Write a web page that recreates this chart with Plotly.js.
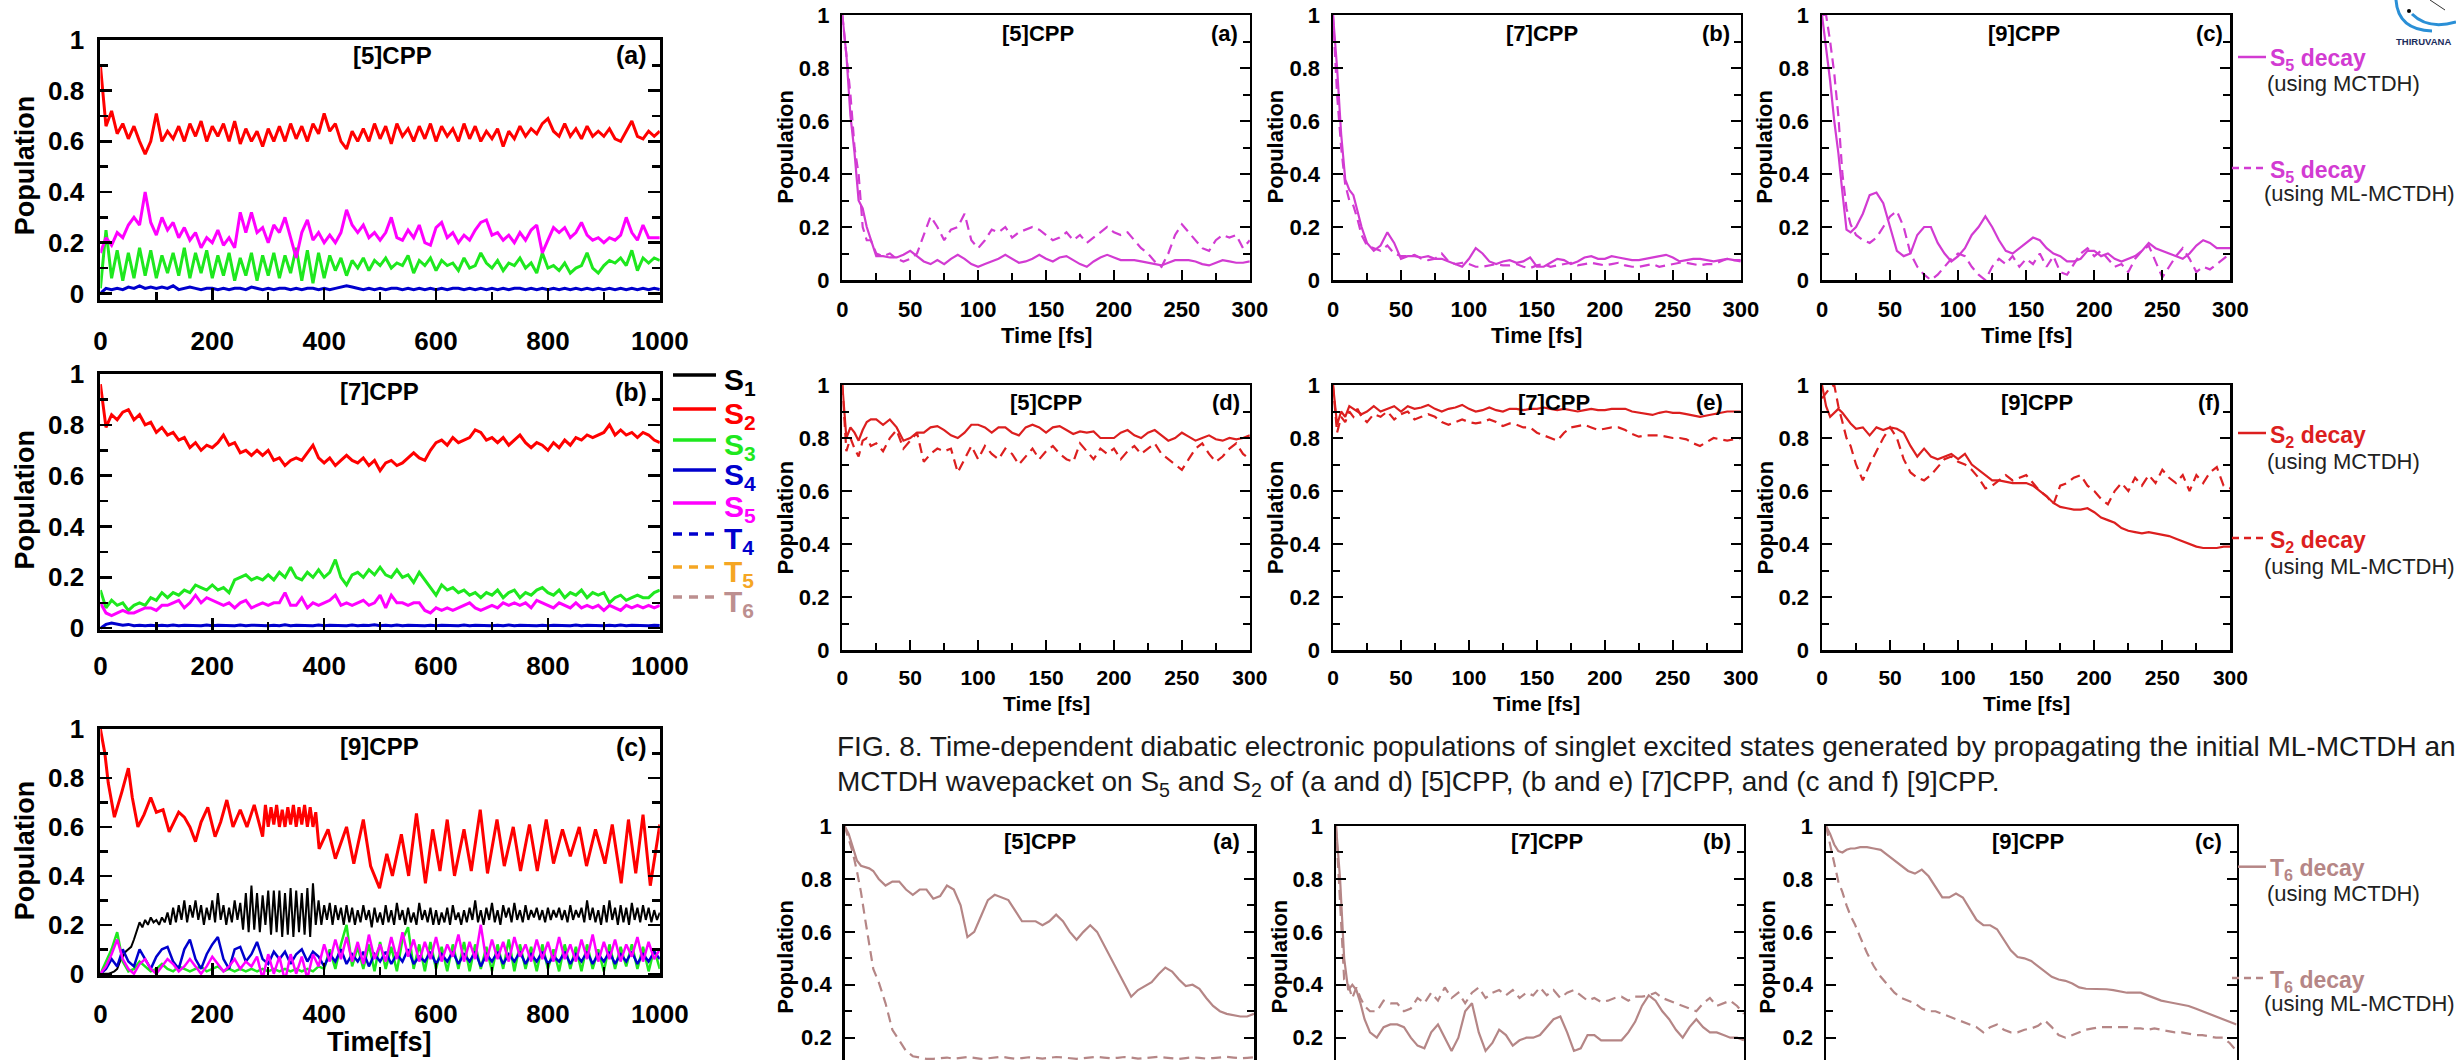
<!DOCTYPE html>
<html><head><meta charset="utf-8">
<script src="https://cdn.plot.ly/plotly-3.0.1.min.js"></script>
<style>html,body{margin:0;padding:0;background:#fff;overflow:hidden}#chart{width:2456px;height:1060px}</style>
</head><body><div id="chart"></div>
<script>
// ---------------- DATA ----------------
// Left column (0-1000 fs), sampled every 10 fs
const T_LONG = Array.from({length:101}, (_, i) => i*10);
const T_LONG5 = Array.from({length:201}, (_, i) => i*5);

const LA_S2 = [0.9,0.66,0.72,0.63,0.67,0.61,0.66,0.6,0.55,0.6,
0.71,0.6,0.64,0.61,0.66,0.6,0.67,0.62,0.68,0.6,
0.66,0.62,0.67,0.6,0.68,0.59,0.65,0.6,0.64,0.58,
0.65,0.6,0.66,0.6,0.67,0.61,0.66,0.6,0.67,0.63,
0.71,0.64,0.67,0.6,0.57,0.64,0.6,0.65,0.6,0.67,
0.61,0.66,0.59,0.67,0.62,0.65,0.6,0.66,0.61,0.67,
0.6,0.66,0.62,0.65,0.6,0.67,0.61,0.66,0.6,0.64,
0.61,0.65,0.58,0.64,0.61,0.66,0.62,0.65,0.63,0.67,
0.69,0.64,0.62,0.67,0.62,0.65,0.61,0.66,0.62,0.64,
0.62,0.65,0.61,0.6,0.64,0.68,0.62,0.61,0.64,0.62,0.64];
const LA_S5 = [0.16,0.22,0.19,0.24,0.22,0.27,0.3,0.27,0.4,0.28,
0.23,0.3,0.25,0.28,0.22,0.26,0.21,0.24,0.18,0.22,
0.2,0.25,0.19,0.22,0.18,0.32,0.24,0.32,0.24,0.26,
0.2,0.27,0.24,0.3,0.22,0.14,0.24,0.29,0.21,0.24,
0.2,0.23,0.2,0.24,0.33,0.27,0.24,0.27,0.22,0.24,
0.21,0.24,0.3,0.22,0.21,0.25,0.22,0.27,0.2,0.19,
0.26,0.28,0.22,0.24,0.2,0.23,0.21,0.25,0.28,0.29,
0.23,0.24,0.21,0.23,0.2,0.24,0.21,0.25,0.27,0.16,
0.21,0.26,0.24,0.26,0.22,0.24,0.28,0.23,0.21,0.22,
0.2,0.22,0.21,0.23,0.3,0.24,0.21,0.27,0.22,0.22,0.22];
const LA_S3 = [0.02,0.25,0.06,0.17,0.05,0.16,0.06,0.18,0.07,0.17,
0.06,0.15,0.08,0.16,0.07,0.18,0.06,0.16,0.08,0.17,
0.06,0.15,0.07,0.16,0.05,0.14,0.07,0.16,0.05,0.15,
0.07,0.16,0.06,0.15,0.08,0.18,0.05,0.17,0.04,0.16,
0.06,0.15,0.09,0.14,0.07,0.13,0.1,0.14,0.09,0.13,
0.11,0.14,0.1,0.12,0.11,0.15,0.08,0.13,0.11,0.14,
0.09,0.13,0.11,0.12,0.09,0.14,0.1,0.11,0.16,0.12,
0.1,0.13,0.09,0.12,0.11,0.14,0.1,0.12,0.08,0.16,
0.1,0.11,0.09,0.12,0.08,0.1,0.11,0.16,0.1,0.08,
0.11,0.13,0.12,0.14,0.11,0.17,0.09,0.14,0.12,0.14,0.13];
const LA_S4 = [0.0,0.02,0.015,0.02,0.015,0.025,0.02,0.03,0.02,0.025,
0.02,0.025,0.02,0.03,0.015,0.02,0.025,0.02,0.015,0.02,
0.02,0.015,0.02,0.015,0.02,0.02,0.015,0.025,0.02,0.015,
0.02,0.015,0.02,0.02,0.015,0.02,0.015,0.02,0.02,0.015,
0.02,0.015,0.02,0.025,0.03,0.025,0.02,0.015,0.02,0.015,
0.02,0.015,0.02,0.02,0.015,0.02,0.015,0.02,0.015,0.02,
0.015,0.02,0.015,0.02,0.02,0.015,0.02,0.015,0.02,0.015,
0.02,0.015,0.02,0.015,0.02,0.02,0.015,0.02,0.015,0.02,
0.015,0.02,0.015,0.02,0.015,0.02,0.015,0.02,0.015,0.02,
0.015,0.02,0.015,0.02,0.015,0.02,0.015,0.02,0.015,0.02,0.015];

const LB_S2 = [0.96,0.79,0.84,0.82,0.85,0.86,0.82,0.84,0.8,0.81,
0.77,0.79,0.76,0.77,0.74,0.75,0.71,0.73,0.7,0.72,
0.71,0.73,0.76,0.72,0.73,0.69,0.7,0.68,0.7,0.68,
0.7,0.66,0.67,0.64,0.66,0.67,0.66,0.69,0.72,0.67,
0.65,0.67,0.64,0.66,0.68,0.66,0.65,0.67,0.64,0.66,
0.62,0.65,0.66,0.64,0.65,0.67,0.69,0.67,0.66,0.7,
0.73,0.74,0.72,0.75,0.73,0.74,0.75,0.78,0.77,0.74,
0.75,0.73,0.75,0.72,0.74,0.76,0.73,0.71,0.73,0.72,
0.7,0.73,0.71,0.74,0.72,0.75,0.74,0.76,0.75,0.76,
0.77,0.8,0.76,0.78,0.76,0.77,0.75,0.77,0.76,0.74,0.73];
const LB_S3 = [0.15,0.08,0.11,0.09,0.1,0.07,0.09,0.1,0.09,0.12,
0.11,0.14,0.12,0.14,0.13,0.15,0.14,0.17,0.16,0.15,
0.17,0.15,0.16,0.14,0.19,0.2,0.21,0.19,0.2,0.19,
0.21,0.19,0.22,0.2,0.24,0.2,0.19,0.22,0.2,0.23,
0.2,0.22,0.27,0.2,0.17,0.21,0.22,0.2,0.23,0.21,
0.24,0.21,0.2,0.23,0.2,0.21,0.18,0.22,0.19,0.16,
0.13,0.17,0.15,0.16,0.14,0.15,0.13,0.14,0.12,0.14,
0.13,0.15,0.12,0.14,0.15,0.12,0.14,0.13,0.15,0.16,
0.14,0.13,0.15,0.12,0.14,0.13,0.15,0.12,0.14,0.13,
0.14,0.1,0.12,0.13,0.11,0.12,0.13,0.12,0.12,0.14,0.15];
const LB_S5 = [0.1,0.06,0.05,0.06,0.07,0.06,0.06,0.07,0.08,0.08,
0.07,0.09,0.09,0.1,0.11,0.08,0.1,0.13,0.1,0.12,
0.11,0.1,0.09,0.1,0.08,0.1,0.11,0.08,0.09,0.1,
0.09,0.1,0.1,0.14,0.09,0.09,0.12,0.08,0.1,0.09,
0.1,0.11,0.13,0.09,0.1,0.09,0.1,0.11,0.09,0.1,
0.13,0.08,0.13,0.1,0.1,0.09,0.1,0.1,0.07,0.06,
0.08,0.07,0.08,0.07,0.08,0.09,0.1,0.08,0.07,0.08,
0.09,0.08,0.1,0.09,0.1,0.09,0.1,0.08,0.11,0.1,
0.09,0.08,0.1,0.09,0.08,0.1,0.08,0.09,0.08,0.09,
0.07,0.09,0.08,0.07,0.09,0.08,0.09,0.08,0.09,0.08,0.09];
const LB_S4 = [0.0,0.015,0.02,0.015,0.012,0.015,0.01,0.012,0.01,0.012,
0.01,0.012,0.01,0.013,0.01,0.012,0.011,0.012,0.01,0.013,
0.01,0.012,0.011,0.012,0.01,0.013,0.01,0.012,0.011,0.012,
0.01,0.012,0.01,0.014,0.01,0.012,0.011,0.012,0.01,0.013,
0.01,0.012,0.011,0.012,0.01,0.013,0.01,0.012,0.011,0.014,
0.01,0.012,0.01,0.013,0.01,0.012,0.011,0.012,0.01,0.012,
0.01,0.012,0.011,0.012,0.01,0.013,0.01,0.012,0.011,0.012,
0.01,0.012,0.01,0.013,0.01,0.012,0.011,0.012,0.01,0.012,
0.01,0.012,0.011,0.012,0.01,0.013,0.01,0.012,0.011,0.012,
0.01,0.012,0.01,0.013,0.01,0.012,0.011,0.012,0.01,0.012,0.011];

// [9]CPP left panel: S2 turning points (own time axis)
const LC_S2_T = [0,8,14,25,38,50,57,67,78,90,100,112,123,140,150,160,170,180,192,205,
215,226,237,250,262,275,290,295,300,305,310,315,320,325,330,335,340,345,350,355,
360,365,370,375,380,385,391,407,420,440,453,470,483,499,512,522,538,551,565,581,
594,607,620,633,650,663,679,692,709,722,738,751,767,781,797,810,826,840,856,869,
885,902,915,931,944,957,970,983,1000];
const LC_S2 = [1.0,0.9,0.78,0.64,0.74,0.84,0.72,0.6,0.65,0.72,0.66,0.67,0.58,0.66,0.64,0.6,0.54,0.62,0.68,0.56,
0.62,0.71,0.6,0.67,0.6,0.69,0.56,0.69,0.6,0.68,0.61,0.69,0.6,0.67,0.6,0.68,0.61,0.69,0.6,0.68,
0.61,0.69,0.6,0.68,0.6,0.66,0.51,0.59,0.47,0.6,0.45,0.63,0.44,0.35,0.49,0.4,0.57,0.4,0.655,0.37,
0.59,0.42,0.63,0.4,0.59,0.42,0.67,0.41,0.63,0.44,0.6,0.42,0.61,0.42,0.63,0.45,0.59,0.48,0.6,0.44,
0.59,0.45,0.61,0.37,0.63,0.41,0.65,0.36,0.61];
// S1 sampled every 5 fs
const LC_S1 = [0,0,0,0,0.005,0.01,0.02,0.05,0.07,0.09,
0.1,0.11,0.14,0.18,0.21,0.19,0.22,0.2,0.23,0.21,
0.22,0.2,0.23,0.21,0.25,0.2,0.27,0.21,0.28,0.22,
0.3,0.21,0.28,0.23,0.3,0.22,0.28,0.2,0.27,0.22,
0.3,0.21,0.33,0.22,0.28,0.2,0.27,0.21,0.3,0.22,
0.29,0.18,0.33,0.17,0.36,0.18,0.33,0.17,0.32,0.2,
0.34,0.16,0.34,0.17,0.34,0.15,0.33,0.16,0.35,0.15,
0.34,0.17,0.33,0.16,0.35,0.15,0.37,0.2,0.3,0.2,
0.28,0.22,0.29,0.2,0.28,0.22,0.27,0.2,0.28,0.21,
0.27,0.2,0.26,0.21,0.28,0.22,0.26,0.19,0.27,0.21,
0.25,0.2,0.28,0.21,0.26,0.2,0.29,0.22,0.26,0.2,
0.27,0.21,0.25,0.2,0.29,0.22,0.26,0.21,0.27,0.2,
0.26,0.2,0.25,0.21,0.27,0.2,0.28,0.22,0.25,0.2,
0.26,0.21,0.27,0.22,0.3,0.21,0.26,0.2,0.27,0.22,
0.29,0.21,0.26,0.2,0.28,0.23,0.27,0.21,0.29,0.22,
0.26,0.21,0.28,0.22,0.26,0.23,0.27,0.22,0.26,0.21,
0.27,0.22,0.26,0.23,0.27,0.22,0.26,0.21,0.28,0.22,
0.26,0.23,0.27,0.21,0.3,0.22,0.27,0.21,0.26,0.2,
0.28,0.21,0.3,0.22,0.27,0.2,0.28,0.21,0.27,0.2,
0.29,0.22,0.27,0.21,0.28,0.22,0.27,0.21,0.26,0.22,0.25];
const LC_S3 = [0,0.05,0.1,0.17,0.05,0.01,0.02,0.05,0.03,0.01,
0.02,0.04,0.02,0.01,0.03,0.02,0.01,0.02,0.03,0.01,
0.02,0.03,0.01,0.02,0.01,0.02,0.01,0.02,0.01,0.02,
0.01,0.02,0.01,0.02,0.01,0.02,0.01,0.02,0.01,0.03,
0.02,0.1,0.02,0.12,0.2,0.03,0.11,0.02,0.12,0.01,
0.13,0.02,0.11,0.01,0.14,0.19,0.02,0.12,0.01,0.13,
0.02,0.11,0.01,0.12,0.02,0.13,0.01,0.12,0.02,0.11,
0.01,0.12,0.02,0.14,0.01,0.12,0.02,0.11,0.01,0.12,
0.02,0.1,0.01,0.12,0.02,0.11,0.01,0.12,0.02,0.1,
0.01,0.12,0.02,0.11,0.03,0.12,0.02,0.11,0.01,0.1,0.02];
const LC_S4 = [0,0.02,0.06,0.03,0.1,0.05,0.03,0.1,0.06,0.02,
0.07,0.1,0.11,0.05,0.02,0.1,0.14,0.06,0.02,0.08,
0.12,0.15,0.06,0.02,0.1,0.11,0.05,0.08,0.13,0.06,
0.04,0.09,0.06,0.09,0.04,0.08,0.1,0.05,0.09,0.07,
0.03,0.08,0.05,0.1,0.04,0.08,0.05,0.09,0.03,0.08,
0.05,0.09,0.04,0.08,0.05,0.1,0.04,0.07,0.05,0.09,
0.04,0.08,0.05,0.09,0.04,0.08,0.05,0.09,0.03,0.08,
0.05,0.09,0.04,0.08,0.05,0.09,0.04,0.08,0.05,0.09,
0.04,0.07,0.05,0.09,0.04,0.08,0.05,0.09,0.04,0.08,
0.05,0.09,0.04,0.08,0.05,0.09,0.04,0.08,0.05,0.09,0.06];
const LC_S5 = [0,0.03,0.08,0.14,0.06,0.02,0.0,0.04,0.06,0.02,
0.0,0.03,0.06,0.04,0.01,0.03,0.06,0.03,0.0,0.03,
0.07,0.04,0.01,0.03,0.06,0.02,0.05,0.03,0.07,-0.02,
0.08,0.0,0.07,-0.03,0.08,0.0,0.07,-0.02,0.08,0.03,
0.12,0.05,0.14,0.06,0.15,0.05,0.13,0.04,0.16,0.06,
0.12,0.05,0.15,0.06,0.17,0.07,0.14,0.05,0.13,0.06,
0.15,0.05,0.12,0.07,0.16,0.05,0.13,0.06,0.2,0.05,
0.14,0.06,0.13,0.05,0.15,0.07,0.12,0.05,0.14,0.06,
0.13,0.05,0.15,0.06,0.12,0.05,0.14,0.06,0.16,0.05,
0.13,0.06,0.14,0.05,0.12,0.07,0.15,0.05,0.13,0.06,0.1];

// Right block (0-300 fs)
const T_SHORT = [0,3,6,9,12,15,18,21,25,30,35,40,45,50,55,60,65,70,75,80,85,90,95,100,
105,110,115,120,125,130,135,140,145,150,155,160,165,170,175,180,185,190,195,200,
205,210,215,220,225,230,235,240,245,250,255,260,265,270,275,280,285,290,295,300];

const S5_5_MCTDH = [1.0,0.85,0.62,0.48,0.30,0.27,0.20,0.15, 0.09,0.09,0.085,0.085,0.095,0.11,0.09,0.07,
0.06,0.075,0.06,0.08,0.095,0.08,0.06,0.05, 0.06,0.07,0.08,0.095,0.08,0.065,0.07,0.08,
0.095,0.08,0.07,0.085,0.09,0.075,0.06,0.05, 0.07,0.085,0.095,0.085,0.075,0.075,0.075,0.07,
0.065,0.06,0.055,0.065,0.075,0.075,0.075,0.07, 0.06,0.055,0.065,0.075,0.07,0.065,0.065,0.07];
const S5_5_ML = [1.0,0.85,0.7,0.5,0.4,0.2,0.15,0.15, 0.1,0.09,0.1,0.08,0.07,0.08,0.1,0.17,
0.24,0.2,0.15,0.19,0.2,0.25,0.15,0.12, 0.15,0.19,0.18,0.2,0.16,0.18,0.19,0.2,
0.19,0.17,0.15,0.16,0.18,0.15,0.17,0.14, 0.16,0.18,0.2,0.18,0.17,0.18,0.15,0.12,
0.1,0.07,0.05,0.1,0.17,0.21,0.18,0.15, 0.12,0.11,0.15,0.17,0.16,0.17,0.12,0.15];
const S5_7_MCTDH = [1.0,0.8,0.55,0.38,0.34,0.32,0.26,0.2, 0.14,0.11,0.13,0.18,0.14,0.08,0.09,0.09,
0.085,0.09,0.08,0.08,0.07,0.06,0.05,0.08, 0.12,0.1,0.07,0.06,0.07,0.075,0.065,0.07,
0.085,0.05,0.05,0.065,0.08,0.075,0.06,0.07, 0.085,0.09,0.08,0.08,0.09,0.085,0.08,0.075,
0.075,0.08,0.085,0.09,0.095,0.085,0.07,0.075, 0.08,0.08,0.075,0.07,0.075,0.08,0.075,0.075];
const S5_7_ML = [1.0,0.7,0.5,0.36,0.3,0.28,0.23,0.17, 0.13,0.12,0.11,0.13,0.1,0.09,0.09,0.095,
0.08,0.075,0.08,0.1,0.07,0.06,0.065,0.06, 0.05,0.05,0.055,0.06,0.055,0.055,0.06,0.05,
0.045,0.055,0.06,0.05,0.055,0.06,0.065,0.055, 0.06,0.065,0.06,0.055,0.06,0.065,0.055,0.05,
0.05,0.055,0.06,0.05,0.055,0.06,0.065,0.065, 0.06,0.055,0.06,0.06,0.07,0.08,0.075,0.07];
const S5_9_MCTDH = [1.0,0.88,0.75,0.6,0.48,0.33,0.19,0.18, 0.2,0.25,0.32,0.33,0.29,0.2,0.11,0.09,
0.1,0.17,0.2,0.2,0.14,0.1,0.07,0.09, 0.12,0.17,0.2,0.24,0.2,0.15,0.11,0.1,
0.12,0.14,0.16,0.15,0.12,0.1,0.09,0.07, 0.07,0.08,0.11,0.11,0.09,0.1,0.08,0.07,
0.08,0.09,0.11,0.14,0.12,0.11,0.1,0.09, 0.08,0.1,0.13,0.15,0.14,0.12,0.12,0.12];
const S5_9_ML = [1.0,1.0,0.9,0.78,0.62,0.4,0.27,0.21, 0.17,0.15,0.14,0.16,0.2,0.24,0.26,0.2,
0.1,0.05,0.02,0.0,0.02,0.05,0.08,0.1, 0.09,0.05,0.02,0.0,0.05,0.08,0.06,0.09,
0.05,0.08,0.06,0.1,0.05,0.09,0.03,0.02, 0.06,0.1,0.12,0.09,0.11,0.08,0.05,0.06,
0.03,0.08,0.11,0.13,0.07,0.01,0.05,0.09, 0.12,0.08,0.03,0.05,0.04,0.06,0.08,0.1];

const S2_5_MCTDH = [1.0,0.8,0.84,0.82,0.79,0.83,0.86,0.87, 0.87,0.85,0.87,0.84,0.79,0.8,0.82,0.82,
0.84,0.845,0.83,0.81,0.8,0.82,0.85,0.85, 0.84,0.82,0.84,0.84,0.82,0.81,0.84,0.85,
0.84,0.82,0.84,0.845,0.83,0.815,0.825,0.82, 0.825,0.8,0.8,0.8,0.82,0.83,0.81,0.8,
0.82,0.83,0.81,0.79,0.8,0.82,0.805,0.79, 0.8,0.81,0.795,0.79,0.8,0.795,0.8,0.81];
const S2_5_ML = [1.0,0.75,0.8,0.76,0.73,0.79,0.8,0.77, 0.78,0.75,0.8,0.83,0.76,0.79,0.82,0.71,
0.74,0.76,0.75,0.76,0.67,0.72,0.77,0.72, 0.77,0.74,0.72,0.76,0.74,0.7,0.73,0.76,
0.72,0.75,0.77,0.74,0.72,0.71,0.78,0.75, 0.72,0.76,0.74,0.76,0.72,0.75,0.77,0.74,
0.76,0.78,0.74,0.72,0.7,0.68,0.72,0.76, 0.78,0.74,0.71,0.73,0.76,0.78,0.74,0.72];
const S2_7_MCTDH = [1.0,0.85,0.9,0.88,0.92,0.91,0.9,0.89, 0.9,0.92,0.9,0.91,0.92,0.9,0.92,0.91,
0.915,0.925,0.91,0.9,0.91,0.915,0.925,0.91, 0.9,0.905,0.915,0.905,0.9,0.91,0.91,0.905,
0.91,0.91,0.915,0.91,0.905,0.91,0.905,0.9, 0.905,0.91,0.905,0.905,0.91,0.91,0.91,0.9,
0.895,0.89,0.887,0.895,0.9,0.895,0.895,0.89, 0.885,0.88,0.885,0.89,0.895,0.9,0.9,0.9];
const S2_7_ML = [1.0,0.82,0.88,0.86,0.9,0.88,0.91,0.88, 0.86,0.89,0.88,0.9,0.87,0.89,0.9,0.87,
0.88,0.89,0.88,0.86,0.85,0.86,0.87,0.86, 0.855,0.86,0.87,0.86,0.845,0.855,0.85,0.84,
0.84,0.82,0.81,0.8,0.79,0.82,0.84,0.845, 0.85,0.84,0.83,0.835,0.84,0.84,0.83,0.815,
0.805,0.81,0.81,0.81,0.805,0.8,0.8,0.795, 0.78,0.77,0.785,0.8,0.795,0.79,0.795,0.8];
const S2_9_MCTDH = [1.0,0.92,0.88,0.895,0.91,0.895,0.875,0.855, 0.835,0.84,0.81,0.84,0.83,0.84,0.835,0.82,
0.77,0.73,0.76,0.73,0.72,0.73,0.74,0.72, 0.74,0.7,0.68,0.66,0.64,0.64,0.635,0.63,
0.63,0.63,0.62,0.6,0.58,0.555,0.54,0.535, 0.53,0.53,0.535,0.52,0.5,0.49,0.48,0.46,
0.45,0.445,0.44,0.445,0.44,0.435,0.43,0.42, 0.41,0.4,0.39,0.385,0.385,0.385,0.39,0.39];
const S2_9_ML = [0.95,0.97,0.99,1.0,0.92,0.86,0.8,0.77, 0.7,0.64,0.7,0.75,0.8,0.84,0.8,0.72,
0.67,0.65,0.64,0.66,0.69,0.72,0.73,0.71, 0.7,0.68,0.65,0.61,0.62,0.64,0.66,0.64,
0.65,0.66,0.63,0.6,0.58,0.55,0.62,0.63, 0.65,0.66,0.62,0.6,0.57,0.55,0.6,0.63,
0.6,0.65,0.62,0.66,0.63,0.68,0.65,0.63, 0.66,0.6,0.66,0.63,0.67,0.69,0.62,0.61];

const T6_5_MCTDH = [1.0,0.97,0.92,0.87,0.85,0.845,0.84,0.83, 0.8,0.775,0.79,0.79,0.76,0.74,0.76,0.76,
0.725,0.735,0.775,0.76,0.7,0.58,0.6,0.66, 0.72,0.74,0.73,0.72,0.68,0.64,0.64,0.64,
0.625,0.64,0.665,0.64,0.6,0.57,0.6,0.625, 0.6,0.55,0.5,0.45,0.4,0.355,0.38,0.395,
0.41,0.44,0.465,0.45,0.42,0.395,0.4,0.385, 0.35,0.32,0.3,0.29,0.285,0.28,0.28,0.29];
const T6_5_ML = [1.0,0.95,0.9,0.83,0.75,0.65,0.56,0.46, 0.41,0.33,0.23,0.19,0.15,0.13,0.125,0.12,
0.12,0.122,0.125,0.12,0.123,0.127,0.124,0.12, 0.122,0.125,0.128,0.124,0.12,0.123,0.126,0.124,
0.121,0.124,0.127,0.125,0.122,0.12,0.123,0.126, 0.128,0.125,0.122,0.124,0.127,0.125,0.121,0.123,
0.126,0.128,0.125,0.122,0.12,0.123,0.126,0.124, 0.121,0.123,0.126,0.128,0.125,0.122,0.124,0.126];
const T6_7_MCTDH = [1.0,0.8,0.5,0.38,0.4,0.38,0.33,0.27, 0.22,0.2,0.24,0.25,0.25,0.24,0.2,0.17,
0.16,0.22,0.25,0.2,0.15,0.2,0.3,0.33, 0.22,0.15,0.18,0.23,0.21,0.17,0.19,0.2,
0.2,0.21,0.24,0.27,0.28,0.22,0.15,0.16, 0.21,0.21,0.19,0.19,0.19,0.19,0.22,0.26,
0.32,0.36,0.34,0.3,0.27,0.23,0.2,0.24, 0.27,0.24,0.22,0.22,0.21,0.2,0.2,0.19];
const T6_7_ML = [1.0,0.7,0.42,0.4,0.35,0.39,0.35,0.32, 0.3,0.3,0.34,0.33,0.33,0.3,0.31,0.35,
0.33,0.37,0.34,0.39,0.35,0.37,0.33,0.37, 0.39,0.35,0.37,0.38,0.36,0.38,0.35,0.37,
0.36,0.39,0.36,0.38,0.35,0.37,0.38,0.36, 0.34,0.35,0.335,0.34,0.35,0.355,0.34,0.355,
0.355,0.36,0.37,0.35,0.34,0.33,0.32,0.31, 0.3,0.33,0.35,0.32,0.33,0.34,0.32,0.29];
const T6_9_MCTDH = [1.0,0.97,0.93,0.905,0.9,0.91,0.915,0.915, 0.92,0.92,0.915,0.91,0.89,0.87,0.85,0.83,
0.82,0.835,0.81,0.77,0.73,0.73,0.745,0.73, 0.69,0.645,0.625,0.625,0.61,0.57,0.53,0.505,
0.5,0.49,0.47,0.45,0.43,0.42,0.415,0.405, 0.39,0.385,0.385,0.385,0.383,0.38,0.375,0.37,
0.37,0.37,0.36,0.35,0.34,0.335,0.33,0.325, 0.32,0.31,0.3,0.29,0.28,0.27,0.26,0.25];
const T6_9_ML = [1.0,0.93,0.87,0.79,0.75,0.7,0.66,0.63, 0.58,0.52,0.47,0.43,0.4,0.37,0.35,0.34,
0.33,0.31,0.3,0.3,0.29,0.28,0.27,0.26, 0.25,0.24,0.22,0.24,0.25,0.23,0.22,0.22,
0.23,0.235,0.245,0.265,0.24,0.21,0.2,0.21, 0.22,0.23,0.235,0.24,0.24,0.24,0.24,0.24,
0.235,0.235,0.23,0.235,0.23,0.225,0.22,0.22, 0.215,0.21,0.21,0.205,0.2,0.2,0.18,0.15];

const MOLECULES = ['[5]CPP','[7]CPP','[9]CPP'];
const LEFT_TAGS = ['(a)','(b)','(c)'];
const ROW_TAGS = [['(a)','(b)','(c)'],['(d)','(e)','(f)'],['(a)','(b)','(c)']];
const STATE_NAMES = ['S<sub>1</sub>','S<sub>2</sub>','S<sub>3</sub>','S<sub>4</sub>','S<sub>5</sub>','T<sub>4</sub>','T<sub>5</sub>','T<sub>6</sub>'];
const ROW_STATES = ['S<sub>5</sub>','S<sub>2</sub>','T<sub>6</sub>'];
const METHODS = ['(using MCTDH)','(using ML-MCTDH)'];
const CAPTION1 = 'FIG. 8. Time-dependent diabatic electronic populations of singlet excited states generated by propagating the initial ML-MCTDH and';
const CAPTION2 = 'MCTDH wavepacket on S<sub>5</sub> and S<sub>2</sub> of (a and d) [5]CPP, (b and e) [7]CPP, and (c and f) [9]CPP.';

// ---------------- LAYOUT ----------------
const W=2456, H=1060;
const FONT='Liberation Sans, Arial, Helvetica, sans-serif';
const fx = x => x/W, fy = y => 1 - y/H;
const C = {S1:'#000000', S2:'#ff0000', S3:'#1ee81e', S4:'#0000cd', S5:'#ff00ff', T4:'#0000cd', T5:'#f5a623', T6:'#bc8f8f',
           mS5:'#d23bd2', mS2:'#dc1f1f', mT6:'#b58686'};

const traces=[];
const layout={width:W,height:H,margin:{l:0,r:0,t:0,b:0},paper_bgcolor:'#fff',plot_bgcolor:'#fff',
  showlegend:false,annotations:[],shapes:[],font:{family:FONT,color:'#000'}};

function addAxes(n,x0,x1,y0,y1,xr,yr,o){
  const xs=n===1?'xaxis':'xaxis'+n, ys=n===1?'yaxis':'yaxis'+n;
  const xid=n===1?'x':'x'+n, yid=n===1?'y':'y'+n;
  const tf={family:FONT,size:o.fs,color:'#000',weight:'bold'};
  const xtf={family:FONT,size:o.xfs||o.fs,color:'#000',weight:'bold'};
  layout[xs]={domain:[fx(x0),fx(x1)],anchor:yid,range:xr,showgrid:false,zeroline:false,showline:true,
    linecolor:'#000',linewidth:o.lw,mirror:!o.cut,ticks:o.cut?'':'inside',ticklen:o.tl,tickwidth:o.tw,tickcolor:'#000',
    tick0:0,dtick:o.xdt,showticklabels:!o.cut,tickfont:xtf,ticklabelstandoff:o.xso,side:o.cut?'top':'bottom',fixedrange:true};
  if(!o.cut) layout[xs].minor={ticks:'inside',dtick:o.xmdt,ticklen:o.mtl,tickwidth:o.tw,tickcolor:'#000'};
  layout[ys]={domain:[fy(y1),fy(y0)],anchor:xid,range:yr,showgrid:false,zeroline:false,showline:true,
    linecolor:'#000',linewidth:o.lw,mirror:'ticks',ticks:'inside',ticklen:o.tl,tickwidth:o.tw,tickcolor:'#000',
    tick0:0,dtick:0.2,minor:{ticks:'inside',dtick:0.1,ticklen:o.mtl,tickwidth:o.tw,tickcolor:'#000'},
    tickfont:tf,ticklabelstandoff:o.yso,fixedrange:true};
  return [xid,yid];
}
function line(ax,x,y,color,width,dash){
  traces.push({type:'scatter',mode:'lines',x:x,y:y,xaxis:ax[0],yaxis:ax[1],hoverinfo:'skip',
    line:{color:color,width:width,dash:dash||'solid'}});
}
function ann(text,x,y,o){
  o=o||{};
  layout.annotations.push({text:text,xref:'paper',yref:'paper',x:fx(x),y:fy(y),showarrow:false,
    xanchor:o.xa||'center',yanchor:o.ya||'middle',textangle:o.angle||0,
    font:{family:FONT,size:o.size||22,color:o.color||'#000',weight:o.bold?'bold':'normal'}});
}
function seg(x0,y,x1,color,width,dash){
  layout.shapes.push({type:'line',xref:'paper',yref:'paper',x0:fx(x0),x1:fx(x1),y0:fy(y),y1:fy(y),
    line:{color:color,width:width,dash:dash||'solid'}});
}

// Left column panels
const LO={lw:3,tl:12,mtl:8,tw:2.5,fs:26,xdt:200,xmdt:100,yso:8};
const la=addAxes(1,100.4,659.8,40,300,[0,1000],[-0.026,1],Object.assign({},LO,{xso:16}));
line(la,T_LONG,LA_S3,C.S3,3); line(la,T_LONG,LA_S5,C.S5,3); line(la,T_LONG,LA_S2,C.S2,3); line(la,T_LONG,LA_S4,C.S4,3);
const lb=addAxes(2,100.4,659.8,374,630,[0,1000],[-0.007,1],Object.assign({},LO,{xso:11}));
line(lb,T_LONG,LB_S2,C.S2,3); line(lb,T_LONG,LB_S3,C.S3,3); line(lb,T_LONG,LB_S4,C.S4,3); line(lb,T_LONG,LB_S5,C.S5,3);
const lc=addAxes(3,100.4,659.8,729,975,[0,1000],[-0.005,1],Object.assign({},LO,{xso:14}));
line(lc,T_LONG5,LC_S1,C.S1,2); line(lc,LC_S2_T,LC_S2,C.S2,3); line(lc,T_LONG,LC_S3,C.S3,2.5);
line(lc,T_LONG,LC_S4,C.S4,2.5); line(lc,T_LONG,LC_S5,C.S5,2.5);

const popLeftY=[165.7,500,850.7];
const leftLabY=[55,391.7,746.7];
const leftMolX=[392.8,379,379];
for(let i=0;i<3;i++){
  ann('Population',24.6,popLeftY[i],{angle:-90,size:27,bold:true});
  ann(MOLECULES[i],leftMolX[i],leftLabY[i],{size:24,bold:true});
  ann(LEFT_TAGS[i],631,leftLabY[i],{size:25,bold:true});
}
ann('Time[fs]',379,1041.7,{size:27,bold:true});

// Left legend
const legY=[375,409,440,470,503,534,567,597];
const legC=[C.S1,C.S2,C.S3,C.S4,C.S5,C.T4,C.T5,C.T6];
for(let i=0;i<8;i++){
  seg(673,legY[i],716,legC[i],3.5,i>=5?'9px,7px':'solid');
  ann(STATE_NAMES[i],722,legY[i]+6,{xa:'left',size:30,bold:true,color:legC[i]});
}

// Right 3x3 block
const MO={lw:2.5,tl:10,mtl:7,tw:2,fs:22,xdt:50,xmdt:25,yso:6};
const colX=[[842.3,1249.8],[1333,1740.8],[1822,2230.4]];
const colX3=[[844.6,1254],[1336,1743.9],[1826,2236.5]];
const rowY=[[15,280],[385,650],[826,1060]];
const rowXso=[8,7,0];
const DATA=[[[S5_5_MCTDH,S5_5_ML],[S5_7_MCTDH,S5_7_ML],[S5_9_MCTDH,S5_9_ML]],
            [[S2_5_MCTDH,S2_5_ML],[S2_7_MCTDH,S2_7_ML],[S2_9_MCTDH,S2_9_ML]],
            [[T6_5_MCTDH,T6_5_ML],[T6_7_MCTDH,T6_7_ML],[T6_9_MCTDH,T6_9_ML]]];
const rowColor=[C.mS5,C.mS2,C.mT6];
const molX=[[1037.5,1541.5,2024],[1046,1554,2036.6],[1039.5,1547,2027.5]];
const tagX=[[1224,1716,2209],[1226,1709,2209],[1226.6,1716.5,2208.5]];
const labY=[33,402,841];
const popX=[[786,1275.7,1765],[785,1275.7,1765],[786,1279.7,1768]];
const popY=[146.7,517.5,956.7];
let n=4;
for(let r=0;r<3;r++){
  for(let c=0;c<3;c++){
    const xs=(r===2?colX3:colX)[c];
    const yr=r===2?[0.1157,1]:[0,1];
    const ax=addAxes(n,xs[0],xs[1],rowY[r][0],rowY[r][1],[0,300],yr,
      Object.assign({},MO,{cut:r===2,xso:rowXso[r],xfs:r===1?21:22}));
    line(ax,T_SHORT,DATA[r][c][0],rowColor[r],2.2);
    line(ax,T_SHORT,DATA[r][c][1],rowColor[r],2.2,'10px,6px');
    ann(MOLECULES[c],molX[r][c],labY[r],{size:22,bold:true});
    ann(ROW_TAGS[r][c],tagX[r][c],labY[r],{size:22,bold:true});
    ann('Population',popX[r][c],popY[r],{angle:-90,size:22,bold:true});
    if(r===0) ann('Time [fs]',(xs[0]+xs[1])/2,335,{size:22,bold:true});
    if(r===1) ann('Time [fs]',(xs[0]+xs[1])/2,703,{size:21,bold:true});
    n++;
  }
}
// Right legends
const rl=[{s:57,u:83,d:168,v:193},{s:433,u:461.7,d:538,v:566.7},{s:866.7,u:893,d:978,v:1003}];
for(let r=0;r<3;r++){
  seg(2238,rl[r].s,2266,rowColor[r],2.5);
  ann(ROW_STATES[r]+' decay',2268,rl[r].s+3,{xa:'left',size:23,bold:true,color:rowColor[r]});
  ann(METHODS[0],2265,rl[r].u,{xa:'left',size:22,color:'#222'});
  seg(2232,rl[r].d,2266,rowColor[r],2.5,'7px,5px');
  ann(ROW_STATES[r]+' decay',2268,rl[r].d+3,{xa:'left',size:23,bold:true,color:rowColor[r]});
  ann(METHODS[1],2262,rl[r].v,{xa:'left',size:22,color:'#222'});
}

// Caption
ann(CAPTION1,835,746.7,{xa:'left',size:28,color:'#1a1a1a'});
ann(CAPTION2,835,783,{xa:'left',size:28,color:'#1a1a1a'});

// Partial logo (top-right corner)
layout.shapes.push({type:'path',xref:'paper',yref:'paper',
  path:`M ${fx(2396)} ${fy(0)} Q ${fx(2398)} ${fy(30)} ${fx(2432)} ${fy(31)}`,line:{color:'#2a8fd6',width:3}});
layout.shapes.push({type:'path',xref:'paper',yref:'paper',
  path:`M ${fx(2412)} ${fy(14)} Q ${fx(2428)} ${fy(30)} ${fx(2456)} ${fy(22)}`,line:{color:'#2a8fd6',width:3}});
layout.shapes.push({type:'line',xref:'paper',yref:'paper',x0:fx(2430),y0:fy(0),x1:fx(2445),y1:fy(10),line:{color:'#333',width:1}});
layout.shapes.push({type:'circle',xref:'paper',yref:'paper',x0:fx(2407),x1:fx(2411),y0:fy(9),y1:fy(13),fillcolor:'#000',line:{width:0}});
ann('THIRUVANA',2394,42,{xa:'left',size:9.5,bold:true,color:'#1b2d5b'});

Plotly.newPlot('chart',traces,layout,{staticPlot:true,displayModeBar:false});
</script></body></html>
